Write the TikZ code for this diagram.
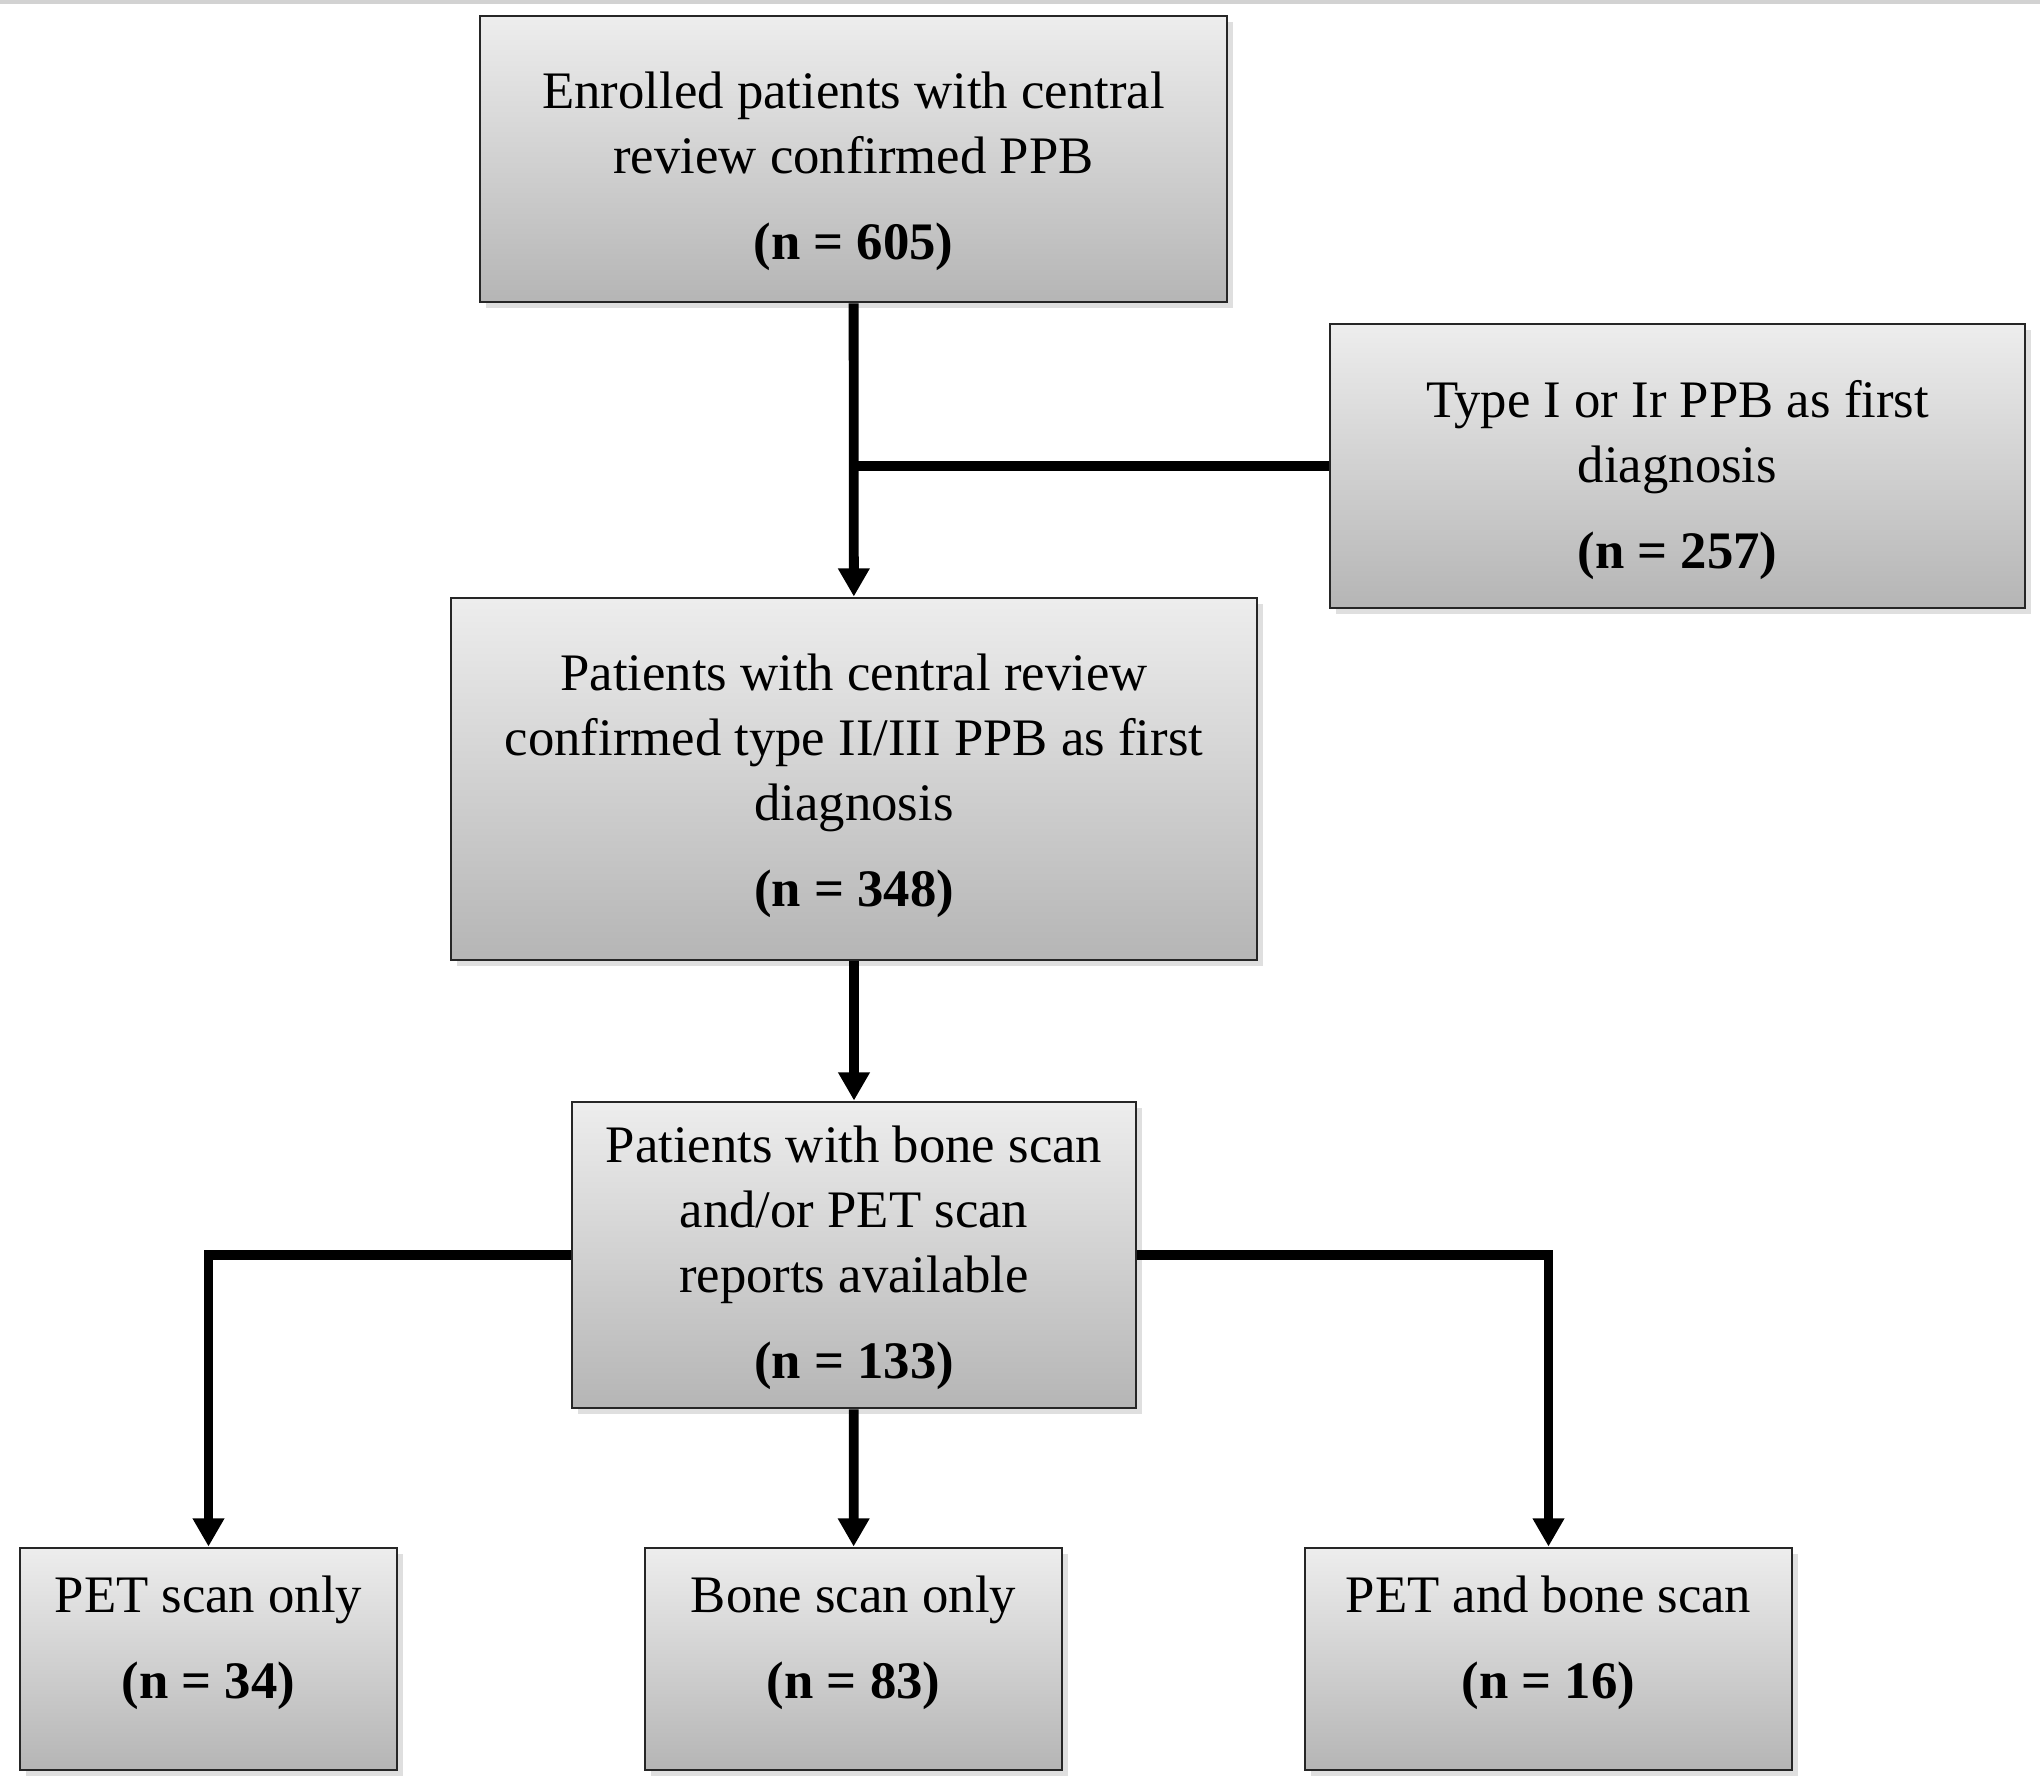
\documentclass[tikz,border=0pt]{standalone}
\usepackage{fontspec}
\setmainfont{Liberation Serif}
\usepackage{tikz}
\usetikzlibrary{arrows.meta}
\usetikzlibrary{calc}
\usetikzlibrary{shadows}
\usetikzlibrary{positioning}
\tikzset{
    flow box/.style={
        draw=black!85,
        line width=0.8pt,
        top color=gray!14,
        bottom color=gray!58,
        drop shadow={shadow xshift=0.6mm, shadow yshift=-0.6mm, opacity=0.25},
        inner sep=0,
    },
    flow text/.style={
        align=center,
        font=\fontsize{15}{18.5}\selectfont,
    },
    flow link/.style={
        line width=2.8pt,
    },
    flow arrow/.style={
        flow link,
        -{Triangle[length=8pt,width=8.5pt]},
    },
}

\begin{document}
\begin{tikzpicture}

    \useasboundingbox (0, 0) rectangle (20.40, 17.89);
    \draw[gray!35, line width=1pt] (0, 17.87) -- (20.40, 17.87);

    \node[flow box, minimum width=7.47cm, minimum height=2.86cm] (enrolled) at (8.535, 16.30) {};
    \node[flow box, minimum width=6.95cm, minimum height=2.84cm] (typeI) at (16.775, 13.23) {};
    \node[flow box, minimum width=8.06cm, minimum height=3.62cm] (typeII) at (8.54, 10.10) {};
    \node[flow box, minimum width=5.64cm, minimum height=3.06cm] (scans) at (8.54, 5.34) {};

    \node[flow text] (enrolled text) at ($(enrolled)+(0, -0.12)$)
        {Enrolled patients with central\\review confirmed PPB\\[6pt]\textbf{(n = 605)}};
    \node[flow text] (typeI text) at ($(typeI)+(0, -0.14)$)
        {Type I or Ir PPB as first\\diagnosis\\[6pt]\textbf{(n = 257)}};
    \node[flow text] (typeII text) at ($(typeII)+(0, -0.07)$)
        {Patients with central review\\confirmed type II/III PPB as first\\diagnosis\\[6pt]\textbf{(n = 348)}};
    \node[flow text] (scans text) at ($(scans)+(0, -0.03)$)
        {Patients with bone scan\\and/or PET scan\\reports available\\[6pt]\textbf{(n = 133)}};

    \foreach \name/\x/\w/\txt/\n in {
        pet/2.085/3.77/PET scan only/34,
        bone/8.535/4.17/Bone scan only/83,
        both/15.485/4.87/PET and bone scan/16}
    {
        \node[flow box, minimum width=\w cm, minimum height=2.22cm] (\name) at (\x, 1.30) {};
        \node[flow text] (\name text) at ($(\name)+(0, 0.16)$)
            {\txt\\[6pt]\textbf{(n = \n)}};
    }

    \draw[flow arrow] (enrolled) -- (typeII);
    \coordinate (join) at (enrolled.south |- typeI.west);
    \draw[flow link] (typeI.west) -- (join);

    \draw[flow arrow] (typeII) -- (scans);
    \draw[flow arrow] (scans) -- (bone);
    \draw[flow arrow] (scans.west) -| (pet.north);
    \draw[flow arrow] (scans.east) -| (both.north);

\end{tikzpicture}
\end{document}
